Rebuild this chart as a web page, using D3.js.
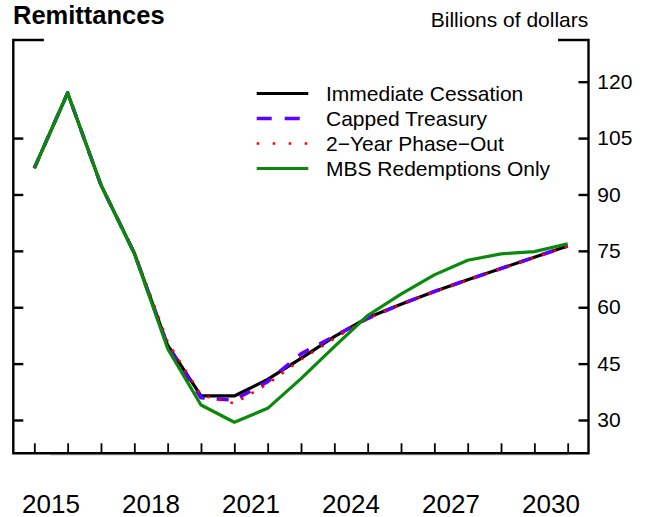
<!DOCTYPE html>
<html>
<head>
<meta charset="utf-8">
<script src="https://cdn.jsdelivr.net/npm/d3@7"></script>
<style>
  html, body { margin: 0; padding: 0; background: #fff; }
  svg { display: block; font-family: "Liberation Sans", Arial, Helvetica, sans-serif; }
</style>
</head>
<body>
<svg id="chart" width="647" height="517"></svg>
<script>
// Annual remittances, billions of dollars, by balance-sheet scenario
const years = d3.range(2015, 2032);

const immediateCessation = [97.0, 117.0, 92.5, 74.4, 49.9, 36.4, 36.4, 40.8, 46.4, 52.2, 57.2, 60.8, 64.2, 67.3, 70.3, 73.3, 76.3];
const cappedTreasury     = [97.0, 117.0, 92.5, 74.4, 49.7, 35.9, 35.3, 40.2, 47.6, 52.3, 57.0, 60.8, 64.2, 67.3, 70.3, 73.3, 76.3];
const twoYearPhaseOut    = [97.0, 117.0, 92.5, 74.8, 50.8, 36.6, 34.4, 39.6, 46.1, 51.7, 57.0, 60.7, 64.1, 67.2, 70.2, 73.2, 76.2];
const mbsRedemptionsOnly = [97.0, 117.0, 92.5, 74.3, 49.0, 34.0, 29.4, 33.1, 41.0, 49.5, 57.8, 63.5, 68.6, 72.5, 74.2, 74.8, 76.9];

const seriesNames = ["Immediate Cessation", "Capped Treasury", "2\u2212Year Phase\u2212Out", "MBS Redemptions Only"];
const valueTicks = [30, 45, 60, 75, 90, 105, 120];
const leftTicks = [30, 45, 60, 75, 90, 105];
const yearLabels = [2015, 2018, 2021, 2024, 2027, 2030];

const styles = [
  { color: "#000000", width: 3.2, dash: null, legendDash: null },
  { color: "#6000ff", width: 3.6, dash: "12 12", legendDash: "15 13" },
  { color: "#ff0000", width: 2.6, dash: "2.6 9.4", legendDash: "2.6 13.4" },
  { color: "#0a8a0a", width: 3.2, dash: null, legendDash: null }
];
const seriesValues = [immediateCessation, cappedTreasury, twoYearPhaseOut, mbsRedemptionsOnly];

const svg = d3.select("#chart");

const frame = { left: 13.3, right: 588.5, top: 40, bottom: 453.3 };
const x = d3.scaleLinear().domain([2015, 2031]).range([34.3, 567.7]);
const y = d3.scaleLinear().domain([30, 120]).range([420, 81.7]);

// Title and units
svg.append("text")
  .attr("x", 13).attr("y", 23.5)
  .attr("font-size", 25.5).attr("font-weight", "bold")
  .text("Remittances");
svg.append("text")
  .attr("x", 588.3).attr("y", 26.7)
  .attr("font-size", 21).attr("text-anchor", "end")
  .text("Billions of dollars");

// Faint baseline under the bottom frame edge
svg.append("line")
  .attr("x1", 50).attr("x2", 568)
  .attr("y1", frame.bottom + 1.6).attr("y2", frame.bottom + 1.6)
  .attr("stroke", "#cfcfcf").attr("stroke-width", 1.2);

// Frame: open top with short corner segments
const frameColor = "#000";
const fw = 2.4;
const framePath = d3.path();
framePath.moveTo(42.7, frame.top);
framePath.lineTo(frame.left, frame.top);
framePath.lineTo(frame.left, frame.bottom);
framePath.lineTo(frame.right, frame.bottom);
framePath.lineTo(frame.right, frame.top);
framePath.lineTo(559.3, frame.top);
svg.append("path")
  .attr("d", framePath.toString())
  .attr("fill", "none").attr("stroke", frameColor)
  .attr("stroke-width", fw).attr("stroke-linecap", "square");

// Right value axis, ticks pointing inward
const rightAxis = svg.append("g")
  .attr("transform", `translate(${frame.right},0)`)
  .call(d3.axisRight(y).tickValues(valueTicks).tickSizeInner(-10).tickSizeOuter(0).tickPadding(8.8));
rightAxis.select(".domain").remove();
rightAxis.selectAll(".tick line").attr("stroke", frameColor).attr("stroke-width", fw);
rightAxis.selectAll(".tick text")
  .attr("font-size", 21).attr("font-family", "Liberation Sans, Arial, sans-serif").attr("fill", "#000");

// Left ticks, unlabelled
const leftAxis = svg.append("g")
  .attr("transform", `translate(${frame.left},0)`)
  .call(d3.axisLeft(y).tickValues(leftTicks).tickSizeInner(-10).tickSizeOuter(0).tickFormat(""));
leftAxis.select(".domain").remove();
leftAxis.selectAll(".tick line").attr("stroke", frameColor).attr("stroke-width", fw);

// Bottom ticks, one per year
const bottomAxis = svg.append("g")
  .attr("transform", `translate(0,${frame.bottom})`)
  .call(d3.axisBottom(x).tickValues(years).tickSizeInner(-10).tickSizeOuter(0).tickFormat(""));
bottomAxis.select(".domain").remove();
bottomAxis.selectAll(".tick line").attr("stroke", frameColor).attr("stroke-width", 1.8);

// Year labels centred on the middle of each year
svg.append("g").selectAll("text")
  .data(yearLabels)
  .join("text")
  .attr("x", d => x(d + 0.5))
  .attr("y", 512.5)
  .attr("text-anchor", "middle")
  .attr("font-size", 26)
  .text(d => d);

// Series lines
const line = d3.line()
  .x((d, i) => x(years[i]))
  .y(d => y(d));

svg.append("g").selectAll("path")
  .data(seriesValues)
  .join("path")
  .attr("d", d => line(d))
  .attr("fill", "none")
  .attr("stroke", (d, i) => styles[i].color)
  .attr("stroke-width", (d, i) => styles[i].width)
  .attr("stroke-dasharray", (d, i) => styles[i].dash)
  .attr("stroke-linejoin", "round");

// Legend
const legend = svg.append("g");
const rows = legend.selectAll("g")
  .data(seriesNames)
  .join("g")
  .attr("transform", (d, i) => `translate(0,${93.5 + i * 25})`);
rows.append("line")
  .attr("x1", 256.7).attr("x2", 308.3)
  .attr("y1", 0).attr("y2", 0)
  .attr("stroke", (d, i) => styles[i].color)
  .attr("stroke-width", (d, i) => styles[i].width)
  .attr("stroke-dasharray", (d, i) => styles[i].legendDash);
rows.append("text")
  .attr("x", 326).attr("y", 7.5)
  .attr("font-size", 21)
  .text(d => d);
</script>
</body>
</html>
